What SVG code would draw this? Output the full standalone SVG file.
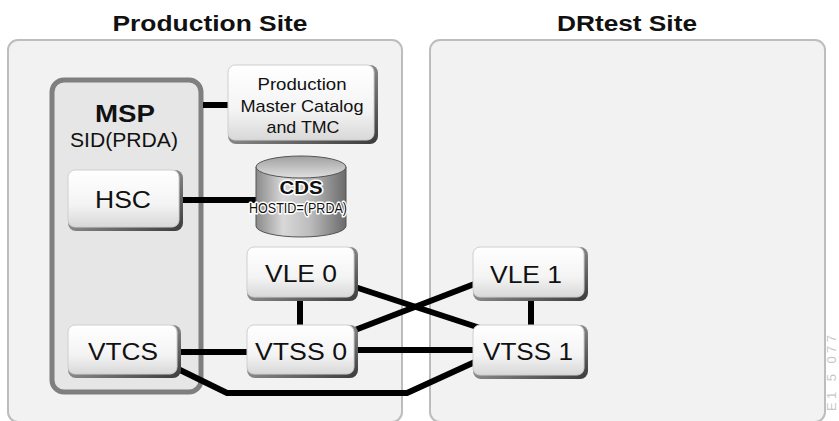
<svg xmlns="http://www.w3.org/2000/svg" width="839" height="421" viewBox="0 0 839 421">
<defs>
<linearGradient id="nodeg" x1="0" y1="0" x2="0" y2="1">
<stop offset="0" stop-color="#ffffff"/>
<stop offset="0.6" stop-color="#f4f4f4"/>
<stop offset="1" stop-color="#d8d8d8"/>
</linearGradient>
<linearGradient id="shadg" x1="0" y1="0" x2="1" y2="1">
<stop offset="0" stop-color="#d0d0d0"/>
<stop offset="1" stop-color="#3a3a3a"/>
</linearGradient>
<linearGradient id="cylg" x1="0" y1="0" x2="1" y2="0">
<stop offset="0" stop-color="#8a8a8a"/>
<stop offset="0.3" stop-color="#d8d8d8"/>
<stop offset="0.6" stop-color="#bcbcbc"/>
<stop offset="1" stop-color="#6a6a6a"/>
</linearGradient>
<linearGradient id="cyltop" x1="0" y1="0" x2="0" y2="1">
<stop offset="0" stop-color="#a0a0a0"/>
<stop offset="1" stop-color="#e0e0e0"/>
</linearGradient>
</defs>
<style>
.panel{fill:#f2f2f2;stroke:#bdbdbd;stroke-width:2}
.title{font-family:"Liberation Sans",Arial,sans-serif;font-weight:bold;font-size:22px;fill:#111;text-anchor:middle}
.shad{fill:url(#shadg)}
.node{fill:url(#nodeg);stroke:#cfcfcf;stroke-width:1}
.lbl{font-family:"Liberation Sans",Arial,sans-serif;font-size:24px;fill:#111;text-anchor:middle}
.small{font-family:"Liberation Sans",Arial,sans-serif;font-size:17px;fill:#111;text-anchor:middle}
.wire{fill:none;stroke:#000;stroke-width:6;stroke-linejoin:miter}
.halo{stroke:#fff;stroke-width:3;paint-order:stroke;stroke-linejoin:round}
</style>
<rect width="839" height="421" fill="#ffffff"/>
<g id="production-site">
<rect class="panel" x="8" y="40" width="394" height="382" rx="10"/>
<text class="title" x="210" y="31" textLength="195" lengthAdjust="spacingAndGlyphs">Production Site</text>
</g>
<g id="drtest-site">
<rect class="panel" x="430" y="40" width="395" height="382" rx="10"/>
<text class="title" x="627" y="31" textLength="140" lengthAdjust="spacingAndGlyphs">DRtest Site</text>
</g>
<g id="msp">
<rect x="52" y="80" width="149" height="312" rx="12" fill="#e6e6e6" stroke="#7f7f7f" stroke-width="5"/>
<text class="lbl" x="125" y="122" style="font-weight:bold" textLength="60" lengthAdjust="spacingAndGlyphs">MSP</text>
<text class="lbl" x="124" y="147" style="font-size:20px" textLength="108" lengthAdjust="spacingAndGlyphs">SID(PRDA)</text>
</g>
<g id="connectors">
<line class="wire" x1="203" y1="105" x2="230" y2="105"/>
<line class="wire" x1="182" y1="200" x2="258" y2="200"/>
<line class="wire" x1="300" y1="298" x2="300" y2="327"/>
<line class="wire" x1="180" y1="352" x2="249" y2="352"/>
<line class="wire" x1="355" y1="350" x2="476" y2="350"/>
<line class="wire" x1="355" y1="287" x2="480" y2="328"/>
<line class="wire" x1="355" y1="330" x2="477" y2="283"/>
<line class="wire" x1="531" y1="298" x2="531" y2="327"/>
<polyline class="wire" points="178,369 227,393 407,393 477,361"/>
</g>
<g id="catalog">
<rect class="shad" x="228" y="65" width="150" height="79" rx="8"/>
<rect class="node" x="228" y="65" width="146" height="75" rx="7"/>
<text class="small" x="302" y="90" textLength="89" lengthAdjust="spacingAndGlyphs">Production</text>
<text class="small" x="302" y="112" textLength="123" lengthAdjust="spacingAndGlyphs">Master Catalog</text>
<text class="small" x="303" y="133" textLength="73" lengthAdjust="spacingAndGlyphs">and TMC</text>
</g>
<g id="hsc">
<rect class="shad" x="68" y="170" width="115" height="61" rx="8"/>
<rect class="node" x="68" y="170" width="111" height="57" rx="7"/>
<text class="lbl" x="123" y="208" textLength="56" lengthAdjust="spacingAndGlyphs">HSC</text>
</g>
<g id="cds">
<path d="M256,167 L256,226 A45,11 0 0 0 346,226 L346,167 Z" fill="url(#cylg)" stroke="#555" stroke-width="1"/>
<ellipse cx="301" cy="167" rx="45" ry="11" fill="url(#cyltop)" stroke="#555" stroke-width="1"/>
<text class="lbl halo" x="301" y="194" style="font-weight:bold;font-size:19px" textLength="43" lengthAdjust="spacingAndGlyphs">CDS</text>
<text class="small halo" x="298" y="213" style="font-size:15px" textLength="98" lengthAdjust="spacingAndGlyphs">HOSTID=(PRDA)</text>
</g>
<g id="vle0">
<rect class="shad" x="247" y="247" width="111" height="54" rx="8"/>
<rect class="node" x="247" y="247" width="107" height="50" rx="7"/>
<text class="lbl" x="301" y="282" textLength="72" lengthAdjust="spacingAndGlyphs">VLE 0</text>
</g>
<g id="vtss0">
<rect class="shad" x="247" y="325" width="111" height="53" rx="8"/>
<rect class="node" x="247" y="325" width="107" height="49" rx="7"/>
<text class="lbl" x="301" y="360" textLength="92" lengthAdjust="spacingAndGlyphs">VTSS 0</text>
</g>
<g id="vtcs">
<rect class="shad" x="68" y="325" width="113" height="53" rx="8"/>
<rect class="node" x="68" y="325" width="109" height="49" rx="7"/>
<text class="lbl" x="123" y="360" textLength="70" lengthAdjust="spacingAndGlyphs">VTCS</text>
</g>
<g id="vle1">
<rect class="shad" x="473" y="247" width="115" height="54" rx="8"/>
<rect class="node" x="473" y="247" width="111" height="50" rx="7"/>
<text class="lbl" x="526" y="283" textLength="72" lengthAdjust="spacingAndGlyphs">VLE 1</text>
</g>
<g id="vtss1">
<rect class="shad" x="473" y="325" width="115" height="54" rx="8"/>
<rect class="node" x="473" y="325" width="111" height="50" rx="7"/>
<text class="lbl" x="528" y="360" textLength="90" lengthAdjust="spacingAndGlyphs">VTSS 1</text>
</g>
<text x="836" y="411" transform="rotate(-90 836 411)" font-family="Liberation Sans,Arial,sans-serif" font-size="13" fill="#c8c8c8" textLength="76" lengthAdjust="spacing">E1 5 077</text>
</svg>
